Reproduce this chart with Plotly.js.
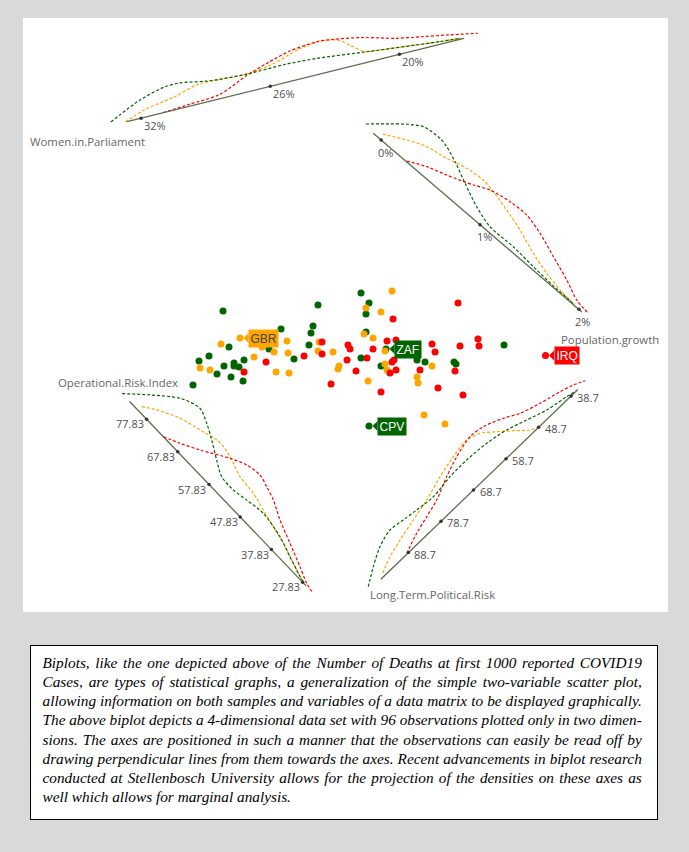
<!DOCTYPE html>
<html><head><meta charset="utf-8">
<script src="https://cdn.plot.ly/plotly-3.0.1.min.js"></script>
<style>
html,body{margin:0;padding:0;background:#d9d9d9;width:689px;height:852px;overflow:hidden;}
#chart{position:absolute;left:23px;top:18px;width:645px;height:594px;background:#fff;}
#caption{position:absolute;left:29.5px;top:645px;width:628px;height:175px;box-sizing:border-box;border:1px solid #000;background:#fff;padding:7.3px 14.7px 0 12px;font-family:"Liberation Serif","Times New Roman",serif;font-style:italic;font-size:15.3px;line-height:19.07px;color:#000;}
.ln{white-space:nowrap;text-align:justify;text-align-last:justify;}
.ln.last{text-align-last:left;}
</style></head><body>
<div id="chart"></div>
<div id="caption"></div>
<script>
// ---------------- DATA ----------------
// observations (biplot coordinates)
const greenX = [-1.27,-0.32,0.11,0.19,0.16,-0.37,-0.39,-0.69,0.16,-1.21,-0.81,-0.41,-0.56,0.36,1.54,-1.41,-1.51,-1.33,-1.26,-1.16,-1.16,-1.11,-1.06,-1.19,-1.07,-1.57,0.11,0.31,0.67,0.75,1.04,1.06,0.19];
const greenY = [0.39,0.45,0.57,0.47,0.36,0.24,0.17,0.21,0.18,0.03,0.01,0.05,-0.09,0.01,0.05,-0.06,-0.11,-0.24,-0.16,-0.13,-0.16,-0.17,-0.10,-0.27,-0.31,-0.35,-0.08,-0.16,-0.10,-0.12,-0.12,-0.14,-0.76];
const orangeX = [0.42,0.16,0.31,0.14,0.23,-1.10,-1.29,-0.63,-0.88,-0.76,-0.31,-0.32,-0.17,-0.62,0.35,-1.50,-1.40,-0.96,-0.74,-0.61,-0.11,-0.12,0.35,0.37,0.82,0.67,0.68,0.18,0.74,0.95];
const orangeY = [0.59,0.42,0.38,0.16,0.12,0.12,0.06,0.09,0.03,-0.02,0.08,-0.01,-0.02,-0.03,-0.01,-0.18,-0.20,-0.07,-0.22,-0.23,-0.16,-0.19,-0.14,-0.20,-0.16,-0.27,-0.33,-0.31,-0.65,-0.74];
const redX = [1.08,0.43,-0.28,-0.28,-0.46,-0.02,0.00,0.23,0.37,0.46,0.82,0.85,1.10,1.28,1.29,-1.06,-0.84,-0.03,0.17,0.06,0.42,0.44,0.40,0.46,0.70,1.05,-0.19,0.31,0.88,1.13,1.955];
const redY = [0.47,0.31,0.08,-0.04,-0.06,0.05,0.01,0.01,0.09,0.10,0.06,-0.02,0.04,0.11,0.04,-0.22,-0.12,-0.10,-0.08,-0.21,-0.12,-0.10,-0.23,-0.20,-0.20,-0.21,-0.34,-0.42,-0.38,-0.45,-0.055];

// labelled observations
const labelCodes  = ['GBR','ZAF','CPV','IRQ'];
const labelGroups = ['orange','green','green','red'];
const labelIndex  = [5,13,32,30];

// axis titles and tick values
const axisTitles = ['Women.in.Parliament','Population.growth','Operational.Risk.Index','Long.Term.Political.Risk'];
const womenTicks = [32,26,20];
const womenTickText = ['32%','26%','20%'];
const popTicks = [0,1,2];
const popTickText = ['0%','1%','2%'];
const opsTicks = [77.83,67.83,57.83,47.83,37.83,27.83];
const opsTickText = ['77.83','67.83','57.83','47.83','37.83','27.83'];
const ltprTicks = [88.7,78.7,68.7,58.7,48.7,38.7];
const ltprTickText = ['88.7','78.7','68.7','58.7','48.7','38.7'];

// densities along each axis (axis value, density height)
const womenGreenPos = [33.36,31.82,30.62,29.91,28.73,26.93,25.09,23.68,21.3,18.12,17.12];
const womenGreenH   = [3.7,18.2,24.8,25.0,20.3,17.4,17.7,15.9,10.1,2.7,0.8];
const womenOrangePos = [32.73,31.73,30.24,29.15,27.53,26.72,25.67,24.35,23.3,22.53,22.01,21.49,20.4,18.14,17.15];
const womenOrangeH   = [0.2,7.5,13.1,19.2,17.9,18.0,20.8,29.1,31.9,28.4,19.7,11.1,8.0,2.7,0.8];
const womenRedPos = [30.97,29.75,28.30,26.95,25.84,24.76,23.51,22.71,21.34,20.0,18.83,17.66,16.34];
const womenRedH   = [0.1,1.9,4.2,15.7,23.5,29.5,32.0,30.4,24.7,16.5,11.7,7.1,1.6];

const popGreenPos = [-0.169,-0.029,0.070,0.179,0.335,0.416,0.540,0.706,0.891,1.069,1.305,1.522,1.739,1.884,1.95];
const popGreenH   = [2.3,18.0,28.6,37.6,39.6,37.6,31.6,21.7,11.5,5.0,4.9,2.8,1.2,1.0,0.5];
const popOrangePos = [-0.02,0.149,0.299,0.474,0.641,0.796,0.913,1.083,1.261,1.455,1.633,1.795,1.95];
const popOrangeH   = [5.4,16.7,24.6,28.8,34.2,36.1,33.7,28.5,22.0,12.9,6.5,2.5,1.0];
const popRedPos = [0.254,0.399,0.558,0.763,0.885,1.061,1.225,1.394,1.589,1.783,1.942,2.076];
const popRedH   = [0.7,9.4,16.1,25.8,32.9,37.0,37.7,32.5,23.4,14.4,5.7,3.2];

const opsGreenPos = [85.69,81.19,76.06,71.4,67.97,64.53,60.56,57.12,53.21,49.56,44.88,38.57,33.84,29.91,27.54];
const opsGreenH   = [0,19.2,38.6,46.1,40.6,32.7,22.4,14.5,13.7,16.4,19.2,15.1,8.5,3.0,0.3];
const opsOrangePos = [80.59,77.76,72.86,67.92,63.76,61.16,57.48,54.31,49.62,45.41,41.2,37.01,32.28,27.78];
const opsOrangeH   = [5.1,13.7,24.8,31.1,36.3,36.5,32.2,27.7,25.9,21.5,17.2,13.0,6.3,0.5];
const opsRedPos = [72.47,68.86,64.72,58.79,55.16,51.52,48.62,45.48,41.25,36.0,30.7,27.02,24.41];
const opsRedH   = [0,7.5,17.3,33.2,40.7,43.3,40.1,35.7,26.7,17.8,8.8,2.2,0];

const ltprGreenPos = [100.35,96.47,92.34,88.18,84.52,80.85,76.15,70.42,65.19,59.43,54.2,49.47,44.75,39.52,37.15];
const ltprGreenH   = [3.3,14.2,24.0,29.1,27.1,25.0,23.0,25.9,26.3,24.5,20.2,13.5,6.9,2.6,0.3];
const ltprOrangePos = [95.99,92.28,88.12,82.92,77.71,72.01,66.82,62.12,58.97,56.06,53.26,50.48,48.84];
const ltprOrangeH   = [2.9,9.8,14.9,20.1,25.2,32.8,38.0,40.7,36.3,25.9,15.1,4.0,0.3];
const ltprRedPos = [89.09,84.42,80.28,76.12,70.94,66.28,61.08,57.43,52.95,49.52,44.79,39.81,36.66,34.14];
const ltprRedH   = [0.7,8.2,13.2,18.3,28.2,35.6,40.8,38.8,31.0,23.0,16.3,10.8,6.4,1.4];

const captionLines = [
 'Biplots, like the one depicted above of the Number of Deaths at first 1000 reported COVID19',
 'Cases, are types of statistical graphs, a generalization of the simple two-variable scatter plot,',
 'allowing information on both samples and variables of a data matrix to be displayed graphically.',
 'The above biplot depicts a 4-dimensional data set with 96 observations plotted only in two dimen-',
 'sions. The axes are positioned in such a manner that the observations can easily be read off by',
 'drawing perpendicular lines from them towards the axes. Recent advancements in biplot research',
 'conducted at Stellenbosch University allows for the projection of the densities on these axes as',
 'well which allows for marginal analysis.'
];

// ---------------- STYLE / GEOMETRY ----------------
const COLORS = {green:'#006400', orange:'#FFA500', red:'#FF0000'};
const LABEL_TXT = {green:'#ffffff', orange:'#444444', red:'#ffffff'};
const AXIS_COLOR = '#5f6b4f';
const DENS_SCALE = 0.01;

const axisDefs = [
 {title:axisTitles[0], ticks:womenTicks, tickText:womenTickText,
  dens:{orange:[womenOrangePos,womenOrangeH], red:[womenRedPos,womenRedH], green:[womenGreenPos,womenGreenH]},
  ref:26, refPt:[-0.798,2.637], per:[-0.2153,-0.0533], nrm:[-0.2403,0.9707], from:32.65, to:17.0,
  lab:[14,-7], tAt:32.65, tAnchor:'right', tShift:[19.6,-20]},
 {title:axisTitles[1], ticks:popTicks, tickText:popTickText,
  dens:{orange:[popOrangePos,popOrangeH], red:[popRedPos,popRedH], green:[popGreenPos,popGreenH]},
  ref:1, refPt:[1.30,1.253], per:[0.9885,-0.8465], nrm:[0.6506,0.7598], from:-0.08, to:2.03,
  lab:[4,-12], tAt:2.03, tAnchor:'left', tShift:[-22.7,-27.3]},
 {title:axisTitles[2], ticks:opsTicks, tickText:opsTickText,
  dens:{orange:[opsOrangePos,opsOrangeH], red:[opsRedPos,opsRedH], green:[opsGreenPos,opsGreenH]},
  ref:52.83, refPt:[-1.254,-1.507], per:[-0.0312,0.0326], nrm:[0.7225,0.6915], from:83.28, to:26.7,
  lab:[-16.7,-4.7], tAt:83.28, tAnchor:'right', tShift:[50.7,19]},
 {title:axisTitles[3], ticks:ltprTicks, tickText:ltprTickText,
  dens:{orange:[ltprOrangePos,ltprOrangeH], red:[ltprRedPos,ltprRedH], green:[ltprGreenPos,ltprGreenH]},
  ref:63.7, refPt:[1.398,-1.243], per:[-0.03254,-0.03132], nrm:[-0.6935,0.7205], from:97.18, to:36.64,
  lab:[17,-1.5], tAt:97.18, tAnchor:'left', tShift:[-13,-15]}
];

function pt(a, v, h){
  h = h || 0;
  return [a.refPt[0] + (v - a.ref)*a.per[0] + h*DENS_SCALE*a.nrm[0],
          a.refPt[1] + (v - a.ref)*a.per[1] + h*DENS_SCALE*a.nrm[1]];
}

const traces = [];
const annotations = [];
const shapes = [];

axisDefs.forEach(a => {
  ['orange','red','green'].forEach(g => {
    const [pos, hh] = a.dens[g];
    const xs = [], ys = [];
    pos.forEach((v,i) => { const p = pt(a, v, hh[i]); xs.push(p[0]); ys.push(p[1]); });
    traces.push({type:'scatter', mode:'lines', x:xs, y:ys, hoverinfo:'skip',
      line:{color:COLORS[g], width:1.2, dash:'3px,2px', shape:'spline', smoothing:0.8}});
  });
  const p0 = pt(a, a.from), p1 = pt(a, a.to);
  traces.push({type:'scatter', mode:'lines', x:[p0[0],p1[0]], y:[p0[1],p1[1]],
    line:{color:AXIS_COLOR, width:1.3}, hoverinfo:'skip'});
  const tx = [], ty = [];
  a.ticks.forEach((v,i) => {
    const p = pt(a, v); tx.push(p[0]); ty.push(p[1]);
    annotations.push({x:p[0], y:p[1], text:a.tickText[i], showarrow:false,
      xshift:a.lab[0], yshift:a.lab[1], xanchor:'center', yanchor:'middle',
      font:{family:'Open Sans, sans-serif', size:11, color:'#505050'}});
  });
  traces.push({type:'scatter', mode:'markers', x:tx, y:ty, hoverinfo:'skip',
    marker:{size:3.5, color:'#333333'}});
  const tp = pt(a, a.tAt);
  annotations.push({x:tp[0], y:tp[1], text:a.title, showarrow:false,
    xanchor:a.tAnchor, yanchor:'middle', xshift:a.tShift[0], yshift:a.tShift[1],
    font:{family:'Open Sans, sans-serif', size:11.4, color:'#666666'}});
});

const pts = {green:[greenX,greenY], orange:[orangeX,orangeY], red:[redX,redY]};
['green','orange','red'].forEach(g => {
  traces.push({type:'scatter', mode:'markers', x:pts[g][0], y:pts[g][1], name:g,
    marker:{size:7, color:COLORS[g]}, hoverinfo:'skip'});
});

labelCodes.forEach((c,i) => {
  const g = labelGroups[i];
  const x = pts[g][0][labelIndex[i]], y = pts[g][1][labelIndex[i]];
  shapes.push({type:'path', xref:'x', yref:'y', xsizemode:'pixel', ysizemode:'pixel',
    xanchor:x, yanchor:y, path:'M 3.5 0 L 8.5 5 L 8.5 -5 Z',
    fillcolor:COLORS[g], line:{width:0}, layer:'above'});
  annotations.push({x:x, y:y, text:c, showarrow:false, xanchor:'left', yanchor:'middle',
    xshift:8, bgcolor:COLORS[g], borderpad:1.5,
    font:{family:'Liberation Sans, Arial, sans-serif', size:12, color:LABEL_TXT[g]}});
});

const layout = {
  width:645, height:594, margin:{l:0,r:0,t:0,b:0},
  paper_bgcolor:'#ffffff', plot_bgcolor:'#ffffff',
  xaxis:{range:[-3.27,3.18], visible:false, fixedrange:true},
  yaxis:{range:[-2.62,3.32], visible:false, fixedrange:true},
  showlegend:false, hovermode:false,
  annotations:annotations, shapes:shapes
};
Plotly.newPlot('chart', traces, layout, {displayModeBar:false, staticPlot:true});

// caption
const cap = document.getElementById('caption');
const avail = 628 - 2 - 12 - 14.7;
const ctx = document.createElement('canvas').getContext('2d');
ctx.font = 'italic 15.3px "Liberation Serif"';
captionLines.forEach((t,i) => {
  const d = document.createElement('div');
  d.className = 'ln' + (i === captionLines.length-1 ? ' last' : '');
  d.textContent = t;
  const w = ctx.measureText(t).width;
  if (w > avail) d.style.letterSpacing = ((avail - w)/t.length).toFixed(3) + 'px';
  cap.appendChild(d);
});
</script>
</body></html>
